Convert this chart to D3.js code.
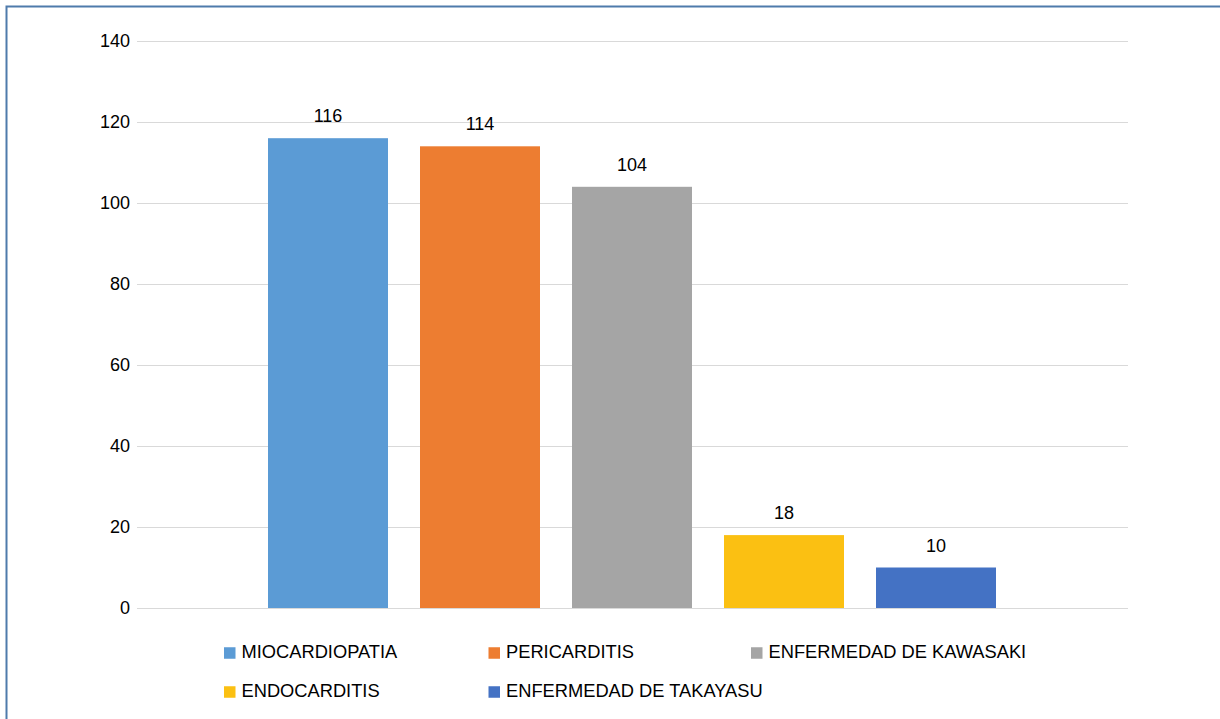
<!DOCTYPE html>
<html><head><meta charset="utf-8">
<script src="https://cdn.jsdelivr.net/npm/d3@7"></script>
<style>html,body{margin:0;padding:0;background:#fff;}svg{display:block;font-family:"Liberation Sans",Arial,sans-serif;}</style>
</head><body>
<script>
const series = ["MIOCARDIOPATIA","PERICARDITIS","ENFERMEDAD DE KAWASAKI","ENDOCARDITIS","ENFERMEDAD DE TAKAYASU"];
const values = [116,114,104,18,10];
const colors = ["#5B9BD5","#ED7D31","#A5A5A5","#FBC012","#4472C4"];
const yTicks = [0,20,40,60,80,100,120,140];

const W=1220,H=719;
const svg=d3.select("body").append("svg").attr("width",W).attr("height",H);
svg.append("rect").attr("x",6.5).attr("y",6.5).attr("width",W+10).attr("height",H+10)
  .attr("fill","none").attr("stroke","#4F7BAB").attr("stroke-width",2);

const plotL=140, plotR=1128;
const y=d3.scaleLinear().domain([0,140]).range([608,41]);
const x=d3.scaleBand().domain(series).range([252,1012]).paddingInner(32/152).paddingOuter(16/152);

svg.append("g").selectAll("line").data(yTicks).join("line")
  .attr("x1",plotL-3).attr("x2",plotR).attr("y1",d=>y(d)+0.5).attr("y2",d=>y(d)+0.5)
  .attr("stroke","#D9D9D9").attr("stroke-width",1);

svg.append("g").selectAll("text").data(yTicks).join("text")
  .attr("x",130).attr("y",d=>y(d)).attr("dy","0.35em").attr("text-anchor","end")
  .attr("font-size",18).attr("fill","#000").text(d=>d);

svg.append("g").selectAll("rect").data(series).join("rect")
  .attr("x",d=>x(d)).attr("width",x.bandwidth())
  .attr("y",(d,i)=>y(values[i])).attr("height",(d,i)=>y(0)-y(values[i]))
  .attr("fill",(d,i)=>colors[i]);

svg.append("g").selectAll("text").data(series).join("text")
  .attr("x",d=>x(d)+x.bandwidth()/2).attr("y",(d,i)=>y(values[i])-16)
  .attr("text-anchor","middle").attr("font-size",18).attr("fill","#000")
  .text((d,i)=>values[i]);

const legendPos=[[224,653],[488.5,653],[751,653],[224,692],[488.5,692]];
const lg=svg.append("g").selectAll("g").data(series).join("g")
  .attr("transform",(d,i)=>`translate(${legendPos[i][0]},${legendPos[i][1]})`);
lg.append("rect").attr("x",0).attr("y",-5.75).attr("width",11.5).attr("height",11.5).attr("fill",(d,i)=>colors[i]);
lg.append("text").attr("x",17.5).attr("y",5).attr("font-size",18.3).attr("fill","#000").text(d=>d);
</script>
</body></html>
